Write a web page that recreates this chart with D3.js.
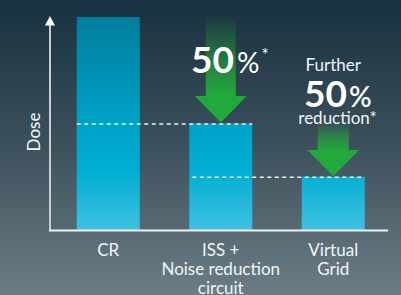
<!DOCTYPE html>
<html><head><meta charset="utf-8">
<script src="https://cdn.jsdelivr.net/npm/d3@7"></script>
<style>html,body{margin:0;padding:0;background:#2c424e;}svg{display:block;}</style>
</head><body>
<script>
const categories = ["CR", "ISS", "Virtual Grid"];
const tickLabels = [["CR"], ["ISS +", "Noise reduction", "circuit"], ["Virtual", "Grid"]];
const doseValues = [100, 50, 25];
const yAxisTitle = "Dose";
const reductionNotes = [
  { from: 0, to: 1, lines: [] },
  { from: 1, to: 2, lines: ["Further"] }
];

const W = 401, H = 295;
const svg = d3.select("body").append("svg").attr("width", W).attr("height", H)
  .style("font-family", "Lato, 'Open Sans', sans-serif");
const defs = svg.append("defs");

const bg = defs.append("linearGradient").attr("id", "bg").attr("x1", 0).attr("y1", 0).attr("x2", 0).attr("y2", 1);
bg.append("stop").attr("offset", 0).attr("stop-color", "#17313e");
bg.append("stop").attr("offset", 0.5).attr("stop-color", "#3d515c");
bg.append("stop").attr("offset", 1).attr("stop-color", "#6c7d86");
svg.append("rect").attr("width", W).attr("height", H).attr("fill", "url(#bg)");

const x = d3.scaleBand().domain(categories).range([52, 389.5]).paddingInner(0.44).paddingOuter(0.22);
const y = d3.scaleLinear().domain([0, 100]).range([230, 17]);

const bar = defs.append("linearGradient").attr("id", "bar").attr("gradientUnits", "userSpaceOnUse")
  .attr("x1", 0).attr("y1", y(100)).attr("x2", 0).attr("y2", y(0));
bar.append("stop").attr("offset", 0).attr("stop-color", "#007d9d");
bar.append("stop").attr("offset", 0.5).attr("stop-color", "#00a2c7");
bar.append("stop").attr("offset", 0.72).attr("stop-color", "#00aed3");
bar.append("stop").attr("offset", 1).attr("stop-color", "#3fc1e2");

svg.selectAll("rect.bar").data(doseValues).join("rect").attr("class", "bar")
  .attr("x", (d, i) => x(categories[i])).attr("width", x.bandwidth())
  .attr("y", d => y(d)).attr("height", d => y(0) - y(d)).attr("fill", "url(#bar)");

// dashed reference lines
reductionNotes.forEach(n => {
  const x0 = n.from === 0 ? x(categories[0]) : x(categories[n.from]) + 3;
  const x1 = x(categories[n.to]) + x.bandwidth();
  svg.append("line").attr("x1", x0).attr("x2", x1)
    .attr("y1", y(doseValues[n.to]) + 0.5).attr("y2", y(doseValues[n.to]) + 0.5)
    .attr("stroke", "#e8f4f8").attr("stroke-width", 1.5).attr("stroke-dasharray", "4,3.5");
});

// axes
svg.append("line").attr("x1", 50).attr("x2", 50).attr("y1", 24).attr("y2", y(0) + 1)
  .attr("stroke", "#c9cdd0").attr("stroke-width", 2);
svg.append("line").attr("x1", 49).attr("x2", 388).attr("y1", y(0) + 0.5).attr("y2", y(0) + 0.5)
  .attr("stroke", "#eef2f4").attr("stroke-width", 2);
svg.append("path").attr("d", "M45,25.5L55,25.5L50,16Z").attr("fill", "#ffffff");

svg.append("text").attr("transform", "translate(40,132) rotate(-90)")
  .attr("text-anchor", "middle").attr("fill", "#f2f5f7").attr("font-size", 17).text(yAxisTitle);

// tick labels
tickLabels.forEach((lines, i) => {
  const cx = x(categories[i]) + x.bandwidth() / 2;
  const t = svg.append("text").attr("text-anchor", "middle").attr("fill", "#f2f5f7").attr("font-size", 17);
  lines.forEach((l, j) => t.append("tspan").attr("x", cx).attr("y", 256 + j * 19).text(l));
});

// green arrows
const green = "#22a93b";
function arrow(id, cx, yTop, yHeadBase, yTip, shaftHalf, headHalf, fadeTop) {
  const g = defs.append("linearGradient").attr("id", id).attr("gradientUnits", "userSpaceOnUse")
    .attr("x1", 0).attr("y1", yTop).attr("x2", 0).attr("y2", yHeadBase);
  g.append("stop").attr("offset", 0).attr("stop-color", green).attr("stop-opacity", 0);
  g.append("stop").attr("offset", fadeTop).attr("stop-color", green).attr("stop-opacity", 0.55);
  g.append("stop").attr("offset", 1).attr("stop-color", green).attr("stop-opacity", 1);
  svg.append("rect").attr("x", cx - shaftHalf).attr("width", shaftHalf * 2)
    .attr("y", yTop).attr("height", yHeadBase - yTop + 0.5).attr("fill", `url(#${id})`);
  svg.append("path").attr("d", `M${cx - headHalf},${yHeadBase}L${cx + headHalf},${yHeadBase}L${cx},${yTip}Z`).attr("fill", green);
}
const c2 = x(categories[1]) + x.bandwidth() / 2;
const c3 = x(categories[2]) + x.bandwidth() / 2;
arrow("ga1", c2, 14, 96, y(doseValues[1]) - 1, 15, 26, 0.55);
arrow("ga2", c3, 122, 150, y(doseValues[2]) - 0.5, 15.5, 26, 0.5);

// annotation 1
const t1 = svg.append("text").attr("x", 191).attr("y", 73).attr("fill", "#ffffff");
t1.append("tspan").attr("font-size", 37).attr("font-weight", 700).text("50");
t1.append("tspan").attr("font-size", 28).attr("dx", 3).text("%");
t1.append("tspan").attr("font-size", 17).attr("dy", -12).attr("dx", 2).text("*");

// annotation 2
svg.append("text").attr("x", c3).attr("y", 71).attr("text-anchor", "middle")
  .attr("fill", "#f2f5f7").attr("font-size", 17).text(reductionNotes[1].lines[0]);
const t2 = svg.append("text").attr("x", 304).attr("y", 107).attr("fill", "#ffffff");
t2.append("tspan").attr("font-size", 37).attr("font-weight", 700).text("50");
t2.append("tspan").attr("font-size", 28).attr("font-weight", 600).attr("dx", 2).text("%");
svg.append("text").attr("x", 337.5).attr("y", 124).attr("text-anchor", "middle")
  .attr("fill", "#f2f5f7").attr("font-size", 17).text("reduction*");
</script>
</body></html>
